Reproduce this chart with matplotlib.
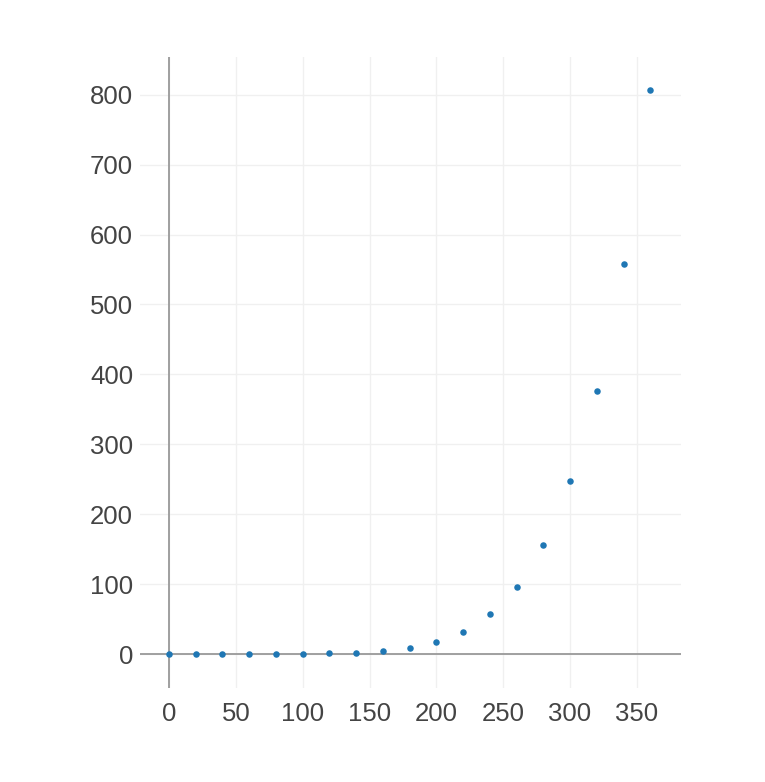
import numpy as np
import matplotlib.pyplot as plt

# data
x_vals = [0, 20, 40, 60, 80, 100, 120, 140, 160, 180,
          200, 220, 240, 260, 280, 300, 320, 340, 360]
y_vals = [0, 0, 0, 0, 0.1, 0.3, 0.8, 1.9, 4.2, 8.5,
          17, 31.5, 57, 96, 156, 248, 376, 558, 807]
x_ticks = [0, 50, 100, 150, 200, 250, 300, 350]
y_ticks = [0, 100, 200, 300, 400, 500, 600, 700, 800]

plt.rcParams['font.family'] = ['Liberation Sans', 'DejaVu Sans']

fig = plt.figure(figsize=(7.65, 7.82), dpi=100)
ax = fig.add_axes([140 / 765, 1 - 688 / 782, (681 - 140) / 765, (688 - 57) / 782])

ax.set_xlim(-21.7, 383)
ax.set_ylim(-48.6, 854)

ax.grid(True, color="#f0f0f0", linewidth=1)
ax.set_axisbelow(True)
ax.axhline(0, color="#999999", linewidth=1.3, zorder=1)
ax.axvline(0, color="#999999", linewidth=1.3, zorder=1)

ax.scatter(x_vals, y_vals, s=22, color="#1f77b4", zorder=3, linewidths=0)

for side in ["top", "right", "bottom", "left"]:
    ax.spines[side].set_visible(False)

ax.set_xticks(x_ticks)
ax.set_yticks(y_ticks)
ax.tick_params(length=0, labelsize=18.5, colors="#444444")
ax.tick_params(axis="y", pad=5)
ax.tick_params(axis="x", pad=10)

fig.savefig("out.png", dpi=100)
